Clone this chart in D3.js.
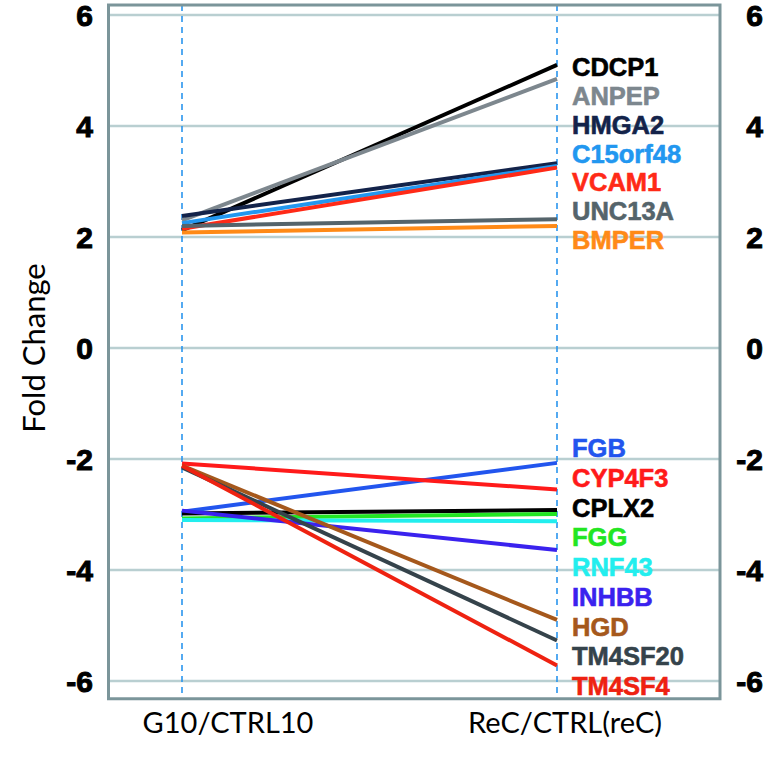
<!DOCTYPE html>
<html><head><meta charset="utf-8">
<script src="https://cdn.jsdelivr.net/npm/d3@7"></script>
<style>body{margin:0;background:#fff}</style>
</head><body><svg id="c" width="767" height="761"></svg>
<script>
const categories = ["G10/CTRL10", "ReC/CTRL(reC)"];
const genes = ["CDCP1","ANPEP","HMGA2","C15orf48","VCAM1","UNC13A","BMPER",
               "FGB","CYP4F3","CPLX2","FGG","RNF43","INHBB","HGD","TM4SF20","TM4SF4"];
const g10Values = [2.12, 2.30, 2.38, 2.25, 2.15, 2.20, 2.08,
                   -2.95, -2.08, -2.98, -3.07, -3.10, -2.93, -2.12, -2.15, -2.12];
const recValues = [5.10, 4.85, 3.33, 3.28, 3.25, 2.32, 2.20,
                   -2.07, -2.55, -2.92, -2.99, -3.12, -3.64, -4.90, -5.27, -5.72];
const geneColors = ["#000000","#7d878e","#13234a","#2297f0","#ff2a17","#55646b","#ff8a17",
                    "#2255ee","#ff1a1a","#000000","#22e622","#22eeee","#3a22ee","#a5581c","#35434b","#ee2211"];
const yTicks = [-6, -4, -2, 0, 2, 4, 6];

const svg = d3.select("#c");
const y = d3.scaleLinear().domain([-6, 6]).range([681, 15]);
const x = d3.scalePoint().domain(categories).range([182, 557]);

const frameL = 108.5, frameR = 720, frameT = y(6.18), frameB = y(-6.32);

// gridlines
svg.append("g").selectAll("line").data(yTicks).join("line")
  .attr("x1", frameL).attr("x2", frameR)
  .attr("y1", d => y(d)).attr("y2", d => y(d))
  .attr("stroke", "#b9cfd1").attr("stroke-width", 2.5);

// dashed category lines
svg.append("g").selectAll("line").data(categories).join("line")
  .attr("x1", d => x(d)).attr("x2", d => x(d))
  .attr("y1", frameT).attr("y2", frameB)
  .attr("stroke", "#2a95ee").attr("stroke-width", 1.6)
  .attr("stroke-dasharray", "6,5");

// frame
svg.append("rect").attr("x", frameL).attr("y", frameT)
  .attr("width", frameR - frameL).attr("height", frameB - frameT)
  .attr("fill", "none").attr("stroke", "#7b959a").attr("stroke-width", 3);

// axes tick labels
const fmt = d => String(d);
const leftAxis = d3.axisLeft(y).tickValues(yTicks).tickSize(0).tickPadding(0).tickFormat(fmt);
const rightAxis = d3.axisRight(y).tickValues(yTicks).tickSize(0).tickPadding(0).tickFormat(fmt);
const la = svg.append("g").attr("transform", "translate(93,0)").call(leftAxis);
const ra = svg.append("g").attr("transform", "translate(763,0)").call(rightAxis);
[la, ra].forEach(a => {
  a.select(".domain").remove();
  a.selectAll("text").attr("font-family", "'Liberation Sans', Arial, sans-serif")
    .attr("font-weight", "bold").attr("font-size", 30).attr("fill", "#000")
    .attr("stroke", "#000").attr("stroke-width", 1)
    .attr("dy", "0.36em");
});
ra.selectAll("text").attr("text-anchor", "end");

// lines
const data = genes.map((g, i) => ({gene: g, vals: [g10Values[i], recValues[i]], color: geneColors[i], i}));
svg.append("g").selectAll("line").data(data).join("line")
  .attr("x1", x(categories[0])).attr("x2", x(categories[1]))
  .attr("y1", d => y(d.vals[0])).attr("y2", d => y(d.vals[1]))
  .attr("stroke", d => d.color).attr("stroke-width", 4).attr("stroke-linecap", "butt");

// labels: stacked per group (up / down), ordered as listed
const up = data.filter(d => d.vals[1] > 0);
const down = data.filter(d => d.vals[1] < 0);
function placeLabels(group, startY, step) {
  group.forEach((d, k) => { d.ly = startY + k * step; });
}
placeLabels(up, y(d3.max(up, d => d.vals[1])) + 2, 28.8);
placeLabels(down, y(d3.max(down, d => d.vals[1])) - 15, 29.75);
svg.append("g").selectAll("text").data(data).join("text")
  .attr("x", 572).attr("y", d => d.ly).attr("dy", "0.36em")
  .attr("font-family", "'Liberation Sans', Arial, sans-serif")
  .attr("font-weight", "bold").attr("font-size", 25.5)
  .attr("stroke", d => d.color).attr("stroke-width", 0.6)
  .attr("fill", d => d.color).text(d => d.gene);

// category labels
const catOffsets = [46, 8];
svg.append("g").selectAll("text").data(categories).join("text")
  .attr("x", (d, i) => x(d) + catOffsets[i]).attr("y", 733)
  .attr("text-anchor", "middle")
  .attr("font-family", "Lato, 'Open Sans', sans-serif").attr("font-size", 29)
  .attr("fill", "#000").text(d => d);

// y-axis title
svg.append("text").attr("transform", `translate(45,${y(0)}) rotate(-90)`)
  .attr("text-anchor", "middle")
  .attr("font-family", "Lato, 'Open Sans', sans-serif").attr("font-size", 31)
  .attr("fill", "#000").text("Fold Change");
</script></body></html>
